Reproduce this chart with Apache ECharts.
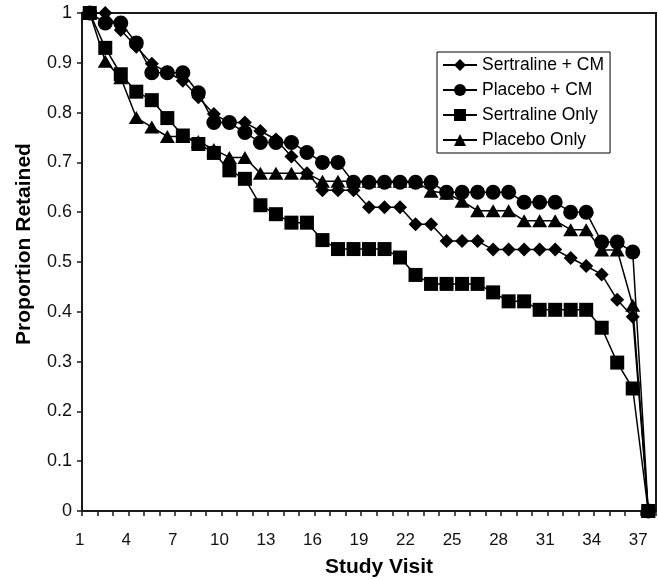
<!DOCTYPE html>
<html>
<head>
<meta charset="utf-8">
<script src="https://cdn.jsdelivr.net/npm/echarts@6/dist/echarts.min.js"></script>
<style>html,body{margin:0;padding:0;background:#fff;}#c{width:658px;height:579px;}</style>
</head>
<body>
<div id="c"></div>
<script>
var visits = ['1','2','3','4','5','6','7','8','9','10','11','12','13','14','15','16','17','18','19','20','21','22','23','24','25','26','27','28','29','30','31','32','33','34','35','36','37'];
var yTickLabels = ['0','0.1','0.2','0.3','0.4','0.5','0.6','0.7','0.8','0.9','1'];
var seriesNames = ['Sertraline + CM','Placebo + CM','Sertraline Only','Placebo Only'];
var sertralineCM = [1,1,0.966,0.932,0.898,0.881,0.864,0.831,0.797,0.78,0.78,0.763,0.746,0.712,0.678,0.644,0.644,0.644,0.61,0.61,0.61,0.576,0.576,0.542,0.542,0.542,0.525,0.525,0.525,0.525,0.525,0.508,0.492,0.475,0.424,0.39,0];
var placeboCM = [1,0.98,0.98,0.94,0.88,0.88,0.88,0.84,0.78,0.78,0.76,0.74,0.74,0.74,0.72,0.70,0.70,0.66,0.66,0.66,0.66,0.66,0.66,0.64,0.64,0.64,0.64,0.64,0.62,0.62,0.62,0.60,0.60,0.54,0.54,0.52,0];
var sertralineOnly = [1,0.93,0.877,0.842,0.825,0.789,0.754,0.737,0.719,0.684,0.667,0.614,0.596,0.579,0.579,0.544,0.526,0.526,0.526,0.526,0.509,0.474,0.456,0.456,0.456,0.456,0.439,0.421,0.421,0.404,0.404,0.404,0.404,0.368,0.298,0.246,0];
var placeboOnly = [1,0.903,0.87,0.79,0.771,0.752,0.752,0.742,0.726,0.71,0.71,0.678,0.678,0.678,0.678,0.662,0.662,0.662,0.662,0.662,0.662,0.662,0.642,0.638,0.622,0.603,0.603,0.603,0.583,0.583,0.583,0.565,0.565,0.524,0.524,0.413,0];

var FONT = 'Liberation Sans, Arial, sans-serif';
var chart = echarts.init(document.getElementById('c'), null, {renderer:'canvas'});

function mkSeries(name, data, symbol, size) {
  return {
    name: name, type: 'line', data: data, symbol: symbol, symbolSize: size,
    showAllSymbol: true,
    lineStyle: {color:'#000', width:1.5},
    itemStyle: {color:'#000', borderWidth:0},
    emphasis: {disabled:true},
    animation: false
  };
}

chart.setOption({
  animation: false,
  grid: {left:82, right:2, top:13, bottom:68, show:true, borderColor:'#1a1a1a', borderWidth:2, backgroundColor:'#fff'},
  legend: {
    orient:'vertical', left:437, top:52,
    padding:[3,6,3,5],
    borderColor:'#000', borderWidth:1, backgroundColor:'#fff',
    itemWidth:34, itemHeight:15, itemGap:5,
    textStyle:{fontFamily:FONT, fontSize:17.5, color:'#000', lineHeight:20},
    data: seriesNames
  },
  xAxis: {
    type:'category', data: visits, boundaryGap:true,
    axisLine:{lineStyle:{color:'#1a1a1a', width:2}},
    axisTick:{show:true, interval:0, length:5, lineStyle:{color:'#1a1a1a', width:1.5}},
    axisLabel:{interval:2, margin:21, fontFamily:FONT, fontSize:17, color:'#111', padding:[0,20,0,0]},
    splitLine:{show:false}
  },
  yAxis: {
    type:'value', min:0, max:1, interval:0.1,
    axisLine:{show:true, lineStyle:{color:'#1a1a1a', width:2}},
    axisTick:{show:true, length:5, lineStyle:{color:'#1a1a1a', width:1.5}},
    axisLabel:{margin:10, fontFamily:FONT, fontSize:18, color:'#111',
      formatter:function(v, i){ return yTickLabels[Math.round(v*10)]; }},
    splitLine:{show:false}
  },
  graphic: [
    {type:'text', x:379, y:567, style:{text:'Study Visit', font:'bold 21px ' + FONT, fill:'#000', textAlign:'center', textVerticalAlign:'middle'}},
    {type:'text', x:24.5, y:244, rotation:Math.PI/2, style:{text:'Proportion Retained', font:'bold 21px ' + FONT, fill:'#000', textAlign:'center', textVerticalAlign:'middle'}}
  ],
  series: [
    mkSeries(seriesNames[0], sertralineCM, 'diamond', 14),
    mkSeries(seriesNames[1], placeboCM, 'circle', 15),
    mkSeries(seriesNames[2], sertralineOnly, 'rect', 14),
    mkSeries(seriesNames[3], placeboOnly, 'triangle', [15,13])
  ]
});
</script>
</body>
</html>
